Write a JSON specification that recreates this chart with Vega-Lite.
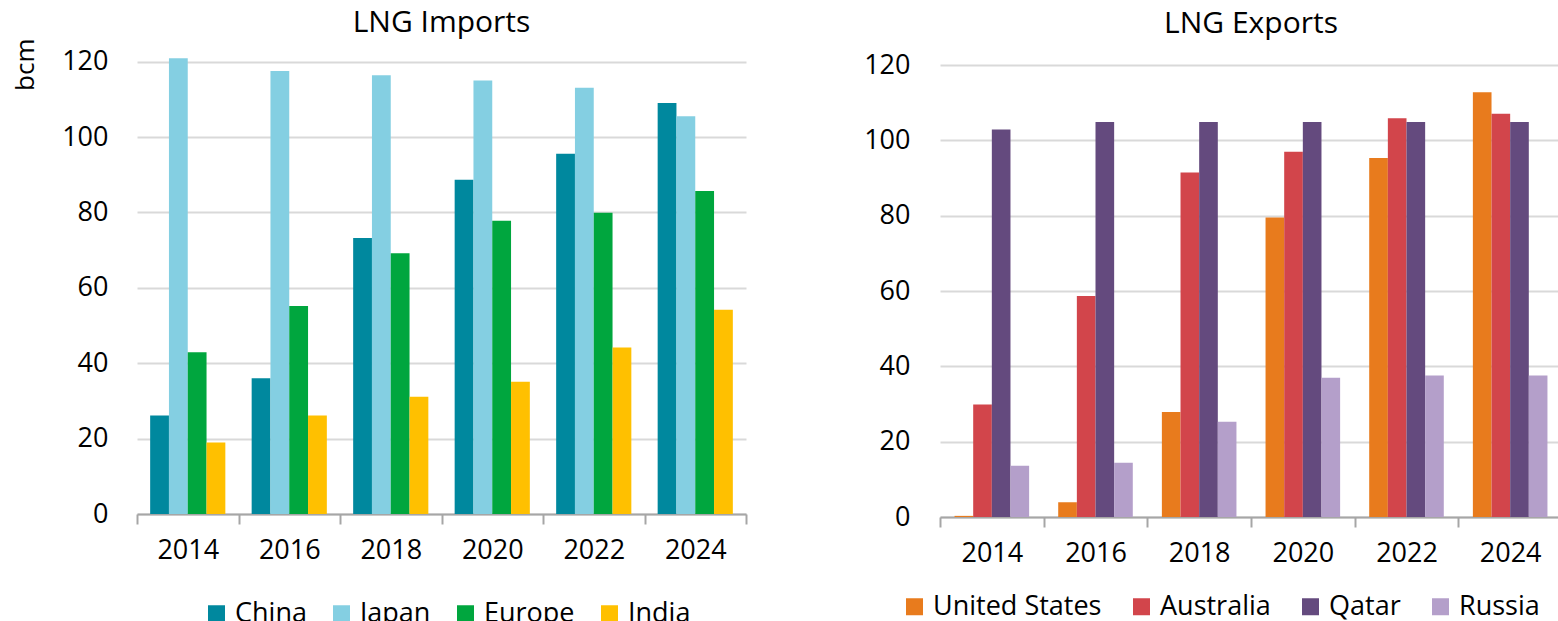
{
  "$schema": "https://vega.github.io/schema/vega-lite/v6.json",
  "padding": {"left": 12, "top": 8, "right": 0, "bottom": 0},
  "background": "white",
  "config": {
    "font": "Open Sans",
    "view": {"stroke": null},
    "bar": {"stroke": null},
    "axisX": {
      "domainColor": "#A6A6A6", "domainWidth": 2,
      "tickColor": "#A6A6A6", "tickWidth": 2, "tickSize": 10, "tickBand": "extent",
      "labelFontSize": 27, "labelColor": "#000000", "labelPadding": 13, "labelAngle": 0,
      "grid": false, "title": null
    },
    "axisY": {
      "domain": false, "ticks": false,
      "gridColor": "#D9D9D9", "gridWidth": 2,
      "labelFontSize": 27, "labelColor": "#000000"
    },
    "legend": {
      "orient": "none", "direction": "horizontal", "title": null,
      "symbolType": "square", "symbolSize": 289, "symbolStrokeWidth": 0,
      "labelFontSize": 27, "labelColor": "#000000", "labelOffset": 5, "columnPadding": 26,
      "labelLimit": 400
    },
    "title": {"fontSize": 30, "fontWeight": "normal", "color": "#000000", "anchor": "middle", "baseline": "alphabetic"}
  },
  "datasets": {
    "imports": [
      {"year": "2014", "country": "China", "value": 26.1},
      {"year": "2014", "country": "Japan", "value": 120.9},
      {"year": "2014", "country": "Europe", "value": 42.9},
      {"year": "2014", "country": "India", "value": 19.0},
      {"year": "2016", "country": "China", "value": 36.0},
      {"year": "2016", "country": "Japan", "value": 117.5},
      {"year": "2016", "country": "Europe", "value": 55.2},
      {"year": "2016", "country": "India", "value": 26.1},
      {"year": "2018", "country": "China", "value": 73.2},
      {"year": "2018", "country": "Japan", "value": 116.4},
      {"year": "2018", "country": "Europe", "value": 69.2},
      {"year": "2018", "country": "India", "value": 31.1},
      {"year": "2020", "country": "China", "value": 88.7},
      {"year": "2020", "country": "Japan", "value": 115.0},
      {"year": "2020", "country": "Europe", "value": 77.8},
      {"year": "2020", "country": "India", "value": 35.1},
      {"year": "2022", "country": "China", "value": 95.6},
      {"year": "2022", "country": "Japan", "value": 113.1},
      {"year": "2022", "country": "Europe", "value": 79.9},
      {"year": "2022", "country": "India", "value": 44.2},
      {"year": "2024", "country": "China", "value": 109.0},
      {"year": "2024", "country": "Japan", "value": 105.5},
      {"year": "2024", "country": "Europe", "value": 85.7},
      {"year": "2024", "country": "India", "value": 54.2}
    ],
    "exports": [
      {"year": "2014", "country": "United States", "value": 0.3},
      {"year": "2014", "country": "Australia", "value": 29.9},
      {"year": "2014", "country": "Qatar", "value": 102.9},
      {"year": "2014", "country": "Russia", "value": 13.6},
      {"year": "2016", "country": "United States", "value": 3.9},
      {"year": "2016", "country": "Australia", "value": 58.7},
      {"year": "2016", "country": "Qatar", "value": 104.9},
      {"year": "2016", "country": "Russia", "value": 14.4},
      {"year": "2018", "country": "United States", "value": 27.9},
      {"year": "2018", "country": "Australia", "value": 91.5},
      {"year": "2018", "country": "Qatar", "value": 104.9},
      {"year": "2018", "country": "Russia", "value": 25.3},
      {"year": "2020", "country": "United States", "value": 79.5},
      {"year": "2020", "country": "Australia", "value": 97.0},
      {"year": "2020", "country": "Qatar", "value": 104.9},
      {"year": "2020", "country": "Russia", "value": 37.0},
      {"year": "2022", "country": "United States", "value": 95.3},
      {"year": "2022", "country": "Australia", "value": 105.9},
      {"year": "2022", "country": "Qatar", "value": 104.9},
      {"year": "2022", "country": "Russia", "value": 37.6},
      {"year": "2024", "country": "United States", "value": 112.8},
      {"year": "2024", "country": "Australia", "value": 107.1},
      {"year": "2024", "country": "Qatar", "value": 104.9},
      {"year": "2024", "country": "Russia", "value": 37.6}
    ]
  },
  "spacing": 116,
  "resolve": {"scale": {"color": "independent", "y": "independent", "x": "independent", "xOffset": "independent"}},
  "hconcat": [
    {
      "data": {"name": "imports"},
      "title": {"text": "LNG Imports", "offset": 0},
      "width": 609,
      "height": 458,
      "mark": {"type": "bar"},
      "encoding": {
        "x": {"field": "year", "type": "ordinal", "scale": {"paddingInner": 0, "paddingOuter": 0}},
        "xOffset": {"field": "country", "type": "nominal", "scale": {"domain": ["China", "Japan", "Europe", "India"], "paddingOuter": 0.7, "paddingInner": 0}},
        "y": {
          "field": "value", "type": "quantitative",
          "scale": {"domain": [0, 121.5], "nice": false},
          "axis": {
            "values": [0, 20, 40, 60, 80, 100, 120], "labelPadding": 29,
            "title": "bcm", "titleFontSize": 26, "titleFontWeight": "normal", "titleColor": "#000000",
            "titleAngle": -90, "titleAlign": "right", "titleBaseline": "top", "titleX": -125, "titleY": -18
          }
        },
        "color": {
          "field": "country", "type": "nominal",
          "scale": {"domain": ["China", "Japan", "Europe", "India"], "range": ["#00889E", "#84CFE2", "#00A63E", "#FFC000"]},
          "legend": {"legendX": 66, "legendY": 544, "columnPadding": 21}
        }
      }
    },
    {
      "data": {"name": "exports"},
      "title": {"text": "LNG Exports", "offset": 12},
      "width": 622,
      "height": 461,
      "mark": {"type": "bar"},
      "encoding": {
        "x": {"field": "year", "type": "ordinal", "scale": {"paddingInner": 0, "paddingOuter": 0}},
        "xOffset": {"field": "country", "type": "nominal", "scale": {"domain": ["United States", "Australia", "Qatar", "Russia"], "paddingOuter": 0.78, "paddingInner": 0}},
        "y": {
          "field": "value", "type": "quantitative",
          "scale": {"domain": [0, 122.4], "nice": false},
          "axis": {"values": [0, 20, 40, 60, 80, 100, 120], "labelPadding": 30, "title": null}
        },
        "color": {
          "field": "country", "type": "nominal",
          "scale": {"domain": ["United States", "Australia", "Qatar", "Russia"], "range": ["#E87B1D", "#D2454B", "#644A7E", "#B49FCA"]},
          "legend": {"legendX": -39, "legendY": 537}
        }
      }
    }
  ]
}
